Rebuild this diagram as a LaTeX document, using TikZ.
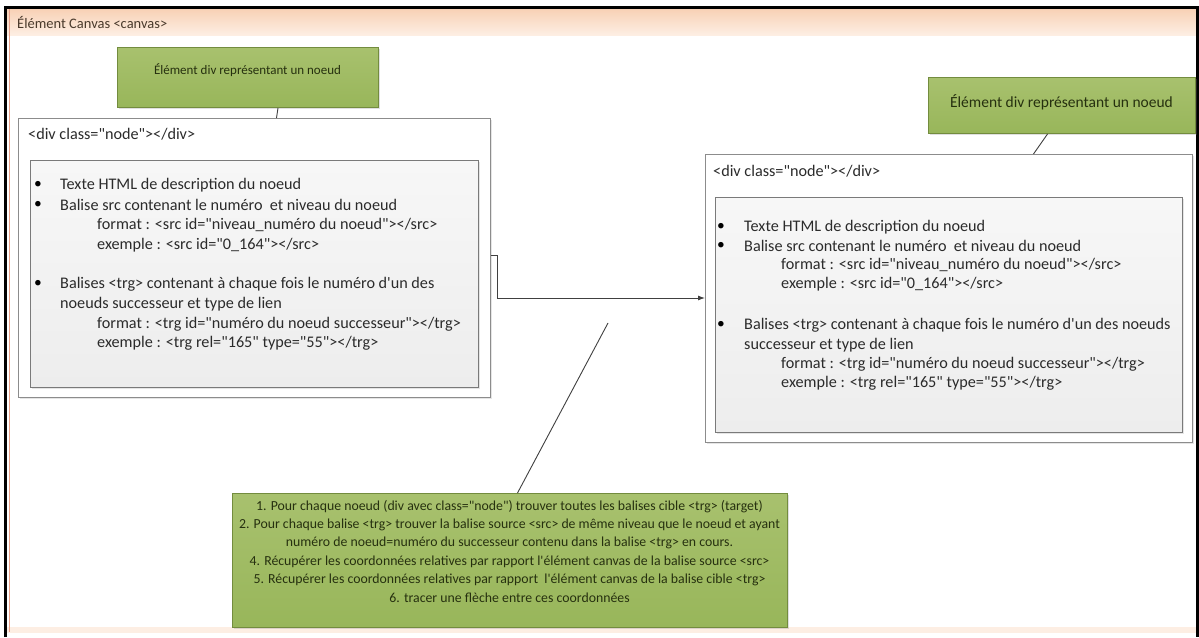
\documentclass[tikz,border=0pt]{standalone}
\usepackage{fontspec}
\setmainfont{Carlito}[Ligatures=TeXOff]
\usetikzlibrary{shadows,arrows.meta}
\definecolor{greenfillA}{HTML}{A8C16E}
\definecolor{greenfillB}{HTML}{98B65A}
\definecolor{greenline}{HTML}{738C3E}
\definecolor{greentext}{HTML}{26300F}
\definecolor{boxline}{HTML}{8C8C8C}
\definecolor{innerline}{HTML}{7A7A7A}
\definecolor{innertop}{HTML}{F7F7F7}
\definecolor{innerbot}{HTML}{EDEDED}
\definecolor{hdrtop}{HTML}{F8D0B4}
\definecolor{hdrbot}{HTML}{FDEEE3}
\definecolor{canvasline}{HTML}{E9A08A}
\definecolor{bodytext}{HTML}{2B2B2B}
\definecolor{hdrtext}{HTML}{4A3A2C}
\tikzset{
  greenbox/.style={draw=greenline, line width=1pt, top color=greenfillA, bottom color=greenfillB,
    anchor=north west, inner sep=0pt,
    drop shadow={shadow xshift=1.5pt, shadow yshift=-1.5pt, opacity=0.25}},
  outerbox/.style={draw=boxline, line width=1pt, fill=white, anchor=north west, inner sep=0pt,
    drop shadow={shadow xshift=1.5pt, shadow yshift=-1.5pt, opacity=0.2}},
  innerbox/.style={draw=innerline, line width=1.4pt, top color=innertop, bottom color=innerbot,
    anchor=north west, inner sep=0pt,
    drop shadow={shadow xshift=1.5pt, shadow yshift=-1.5pt, opacity=0.2}},
  txt/.style={font=\fontsize{16.2}{19}\selectfont, text=bodytext, anchor=west, inner sep=0pt},
  gtxt/.style={font=\fontsize{13.8}{16}\selectfont, text=greentext, inner sep=0pt},
  bul/.style={font=\fontsize{15.5}{19}\selectfont, text=black, inner sep=0pt},
  conn/.style={draw=black!75, line width=0.9pt},
}
\begin{document}
\begin{tikzpicture}[x=1pt,y=-1pt]
\useasboundingbox (0,0) rectangle (1199,637);
\fill[white] (0,0) rectangle (1199,637);
% canvas element
\shade[top color=hdrtop, bottom color=hdrbot] (7,8) rectangle (1197,35);
\fill[hdrbot] (7,627) rectangle (1197,633);
\draw[canvasline, line width=1.2pt] (9.5,9) -- (9.5,632);
\node[font=\fontsize{14.5}{17}\selectfont, text=hdrtext, anchor=west, inner sep=0pt] (title) at (17,22) {Élément Canvas <canvas>};
% screen frame
\draw[black, line width=3pt] (5.5,637) -- (5.5,7.5) -- (1197.5,7.5) -- (1197.5,637);

% ---------- left node ----------
\node[greenbox, minimum width=261pt, minimum height=60pt] (ga) at (117,47) {};
\node[gtxt, font=\fontsize{13}{16}\selectfont] (gatxt) at (247.5,70) {Élément div représentant un noeud};
\node[outerbox, minimum width=472pt, minimum height=279pt] (lo) at (18,118) {};
\node[txt] (lotitle) at (28,134) {<div class="node"></div>};
\node[innerbox, minimum width=448pt, minimum height=227pt] (li) at (30,160) {};
\node[bul] (lb1) at (38,185) {\textbullet};
\node[txt] (l1) at (60,185) {Texte HTML de description du noeud};
\node[bul] (lb2) at (38,205) {\textbullet};
\node[txt] (l2) at (60,205) {Balise src contenant le numéro~ et niveau du noeud};
\node[txt] (l3) at (97,225) {format : <src id="niveau\_numéro du noeud"></src>};
\node[txt] (l4) at (97,245) {exemple : <src id="0\_164"></src>};
\node[bul] (lb3) at (38,284) {\textbullet};
\node[txt] (l5) at (60,284) {Balises <trg> contenant à chaque fois le numéro d'un des};
\node[txt] (l6) at (60,304) {noeuds successeur et type de lien};
\node[txt] (l7) at (97,324) {format : <trg id="numéro du noeud successeur"></trg>};
\node[txt] (l8) at (97,343) {exemple : <trg rel="165" type="55"></trg>};

% ---------- right node ----------
\node[greenbox, minimum width=267pt, minimum height=56pt] (gb) at (928,77) {};
\node[gtxt, font=\fontsize{15.5}{18}\selectfont] (gbtxt) at (1061.5,102) {Élément div représentant un noeud};
\node[outerbox, minimum width=487pt, minimum height=288pt] (ro) at (705,154) {};
\node[txt] (rotitle) at (713,171) {<div class="node"></div>};
\node[innerbox, minimum width=467pt, minimum height=235pt] (ri) at (715,197) {};
\node[bul] (rb1) at (721,227) {\textbullet};
\node[txt] (r1) at (744,227) {Texte HTML de description du noeud};
\node[bul] (rb2) at (721,246) {\textbullet};
\node[txt] (r2) at (744,246) {Balise src contenant le numéro~ et niveau du noeud};
\node[txt] (r3) at (781,265) {format : <src id="niveau\_numéro du noeud"></src>};
\node[txt] (r4) at (781,284) {exemple : <src id="0\_164"></src>};
\node[bul] (rb3) at (721,325) {\textbullet};
\node[txt] (r5) at (744,325) {Balises <trg> contenant à chaque fois le numéro d'un des noeuds};
\node[txt] (r6) at (744,345) {successeur et type de lien};
\node[txt] (r7) at (781,364) {format : <trg id="numéro du noeud successeur"></trg>};
\node[txt] (r8) at (781,383) {exemple : <trg rel="165" type="55"></trg>};

% ---------- bottom note ----------
\node[greenbox, minimum width=555pt, minimum height=134pt] (gc) at (232,493) {};
\node[gtxt] (c1) at (509.5,507) {1. Pour chaque noeud (div avec class="node") trouver toutes les balises cible <trg> (target)};
\node[gtxt] (c2) at (509.5,525) {2. Pour chaque balise <trg> trouver la balise source <src> de même niveau que le noeud et ayant};
\node[gtxt] (c3) at (509.5,543) {numéro de noeud=numéro du successeur contenu dans la balise <trg> en cours.};
\node[gtxt] (c4) at (509.5,562) {4. Récupérer les coordonnées relatives par rapport l'élément canvas de la balise source <src>};
\node[gtxt] (c5) at (509.5,580) {5. Récupérer les coordonnées relatives par rapport~ l'élément canvas de la balise cible <trg>};
\node[gtxt] (c6) at (509.5,598) {6. tracer une flèche entre ces coordonnées};

% ---------- connectors ----------
\draw[conn] ([xshift=30pt]ga.south) -- ([xshift=28.5pt]ga.south |- lo.north);
\draw[conn] ([xshift=-14.5pt]gb.south) -- ([xshift=84.5pt]ro.north);
\coordinate (cend) at (608,323);
\draw[conn] ([xshift=7.5pt]gc.north) -- (cend);
\coordinate (abend) at (497,255);
\coordinate (aelbow) at (497,298);
\draw[conn, -{Latex[length=7pt,width=5pt]}] (lo.east |- abend) -- (abend) -- (aelbow) -- (ro.west |- aelbow);
\end{tikzpicture}
\end{document}
